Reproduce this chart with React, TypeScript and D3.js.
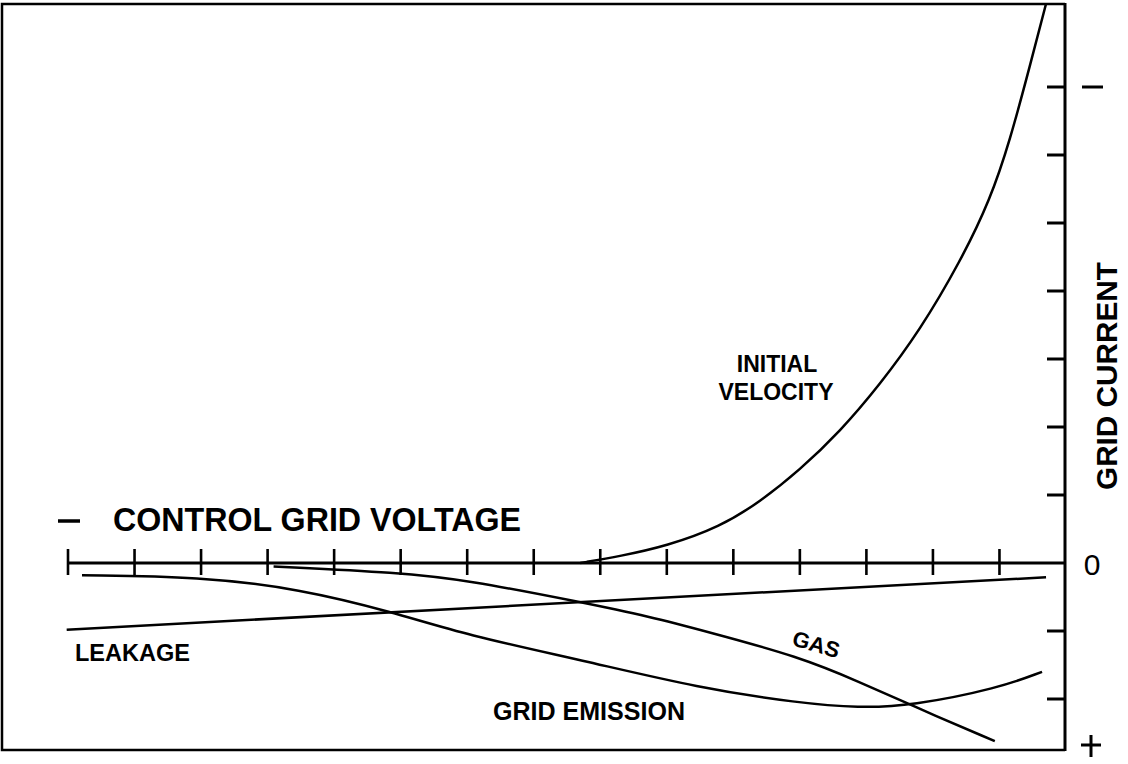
import React from "react";
import * as d3 from "d3";

// Grid voltage in tick units (0..15, 15 = right axis), grid current in tick units (0 = axis)
const voltageTicks = [0, 1, 2, 3, 4, 5, 6, 7, 8, 9, 10, 11, 12, 13, 14];
const currentTicks = [-2, -1, 1, 2, 3, 4, 5, 6, 7];

const velocityX = [7.7, 8.3, 9.0, 9.8, 10.4, 11.0, 11.6, 12.2, 12.81, 13.41, 13.86, 14.16, 14.46, 14.72];
const velocityY = [0, 0.1, 0.25, 0.53, 0.9, 1.37, 1.93, 2.62, 3.43, 4.43, 5.34, 6.22, 7.32, 8.3];

const leakageX = [-0.02, 14.7];
const leakageY = [-0.98, -0.21];

const emissionX = [0.21, 1.98, 3.48, 4.88, 5.99, 7.73, 9.49, 10.99, 11.89, 12.67, 13.99, 14.64];
const emissionY = [-0.18, -0.2, -0.38, -0.72, -1.06, -1.43, -1.84, -2.06, -2.13, -2.1, -1.84, -1.6];

const gasX = [3.09, 4.98, 5.99, 7.73, 8.75, 9.57, 11.0, 11.9, 12.69, 13.93];
const gasY = [-0.05, -0.14, -0.25, -0.58, -0.79, -1.0, -1.38, -1.75, -2.1, -2.62];

const W = 1128;
const H = 764;
const FONT = "'Liberation Sans', 'DejaVu Sans', sans-serif";

export default function App() {
  const x = d3.scaleLinear().domain([0, 15]).range([68, 1066]);
  const y = d3.scaleLinear().domain([0, 1]).range([563, 495]);

  const frameLeft = 2;
  const frameTop = 4;
  const frameBottom = 750;
  const axisX = x(15) - 1;

  const line = d3
    .line<[number, number]>()
    .x((d) => x(d[0]))
    .y((d) => y(d[1]))
    .curve(d3.curveBasis);

  const zip = (a: number[], b: number[]) => a.map((v, i) => [v, b[i]] as [number, number]);

  const clipId = "plotclip";

  return (
    <svg
      width={W}
      height={H}
      viewBox={`0 0 ${W} ${H}`}
      style={{ position: "absolute", left: 0, top: 0, background: "#fff" }}
    >
      <defs>
        <clipPath id={clipId}>
          <rect x={frameLeft} y={frameTop} width={axisX - frameLeft} height={frameBottom - frameTop} />
        </clipPath>
      </defs>
      <rect width={W} height={H} fill="#fff" />
      {/* frame */}
      <path
        d={`M${axisX},${frameTop} L${frameLeft},${frameTop} L${frameLeft},${frameBottom} L${axisX},${frameBottom}`}
        fill="none"
        stroke="#000"
        strokeWidth={2.5}
      />
      {/* right (current) axis */}
      <line x1={axisX} x2={axisX} y1={frameTop - 1} y2={frameBottom + 1} stroke="#000" strokeWidth={3} />
      {currentTicks.map((t) => (
        <line key={"ct" + t} x1={axisX - 18} x2={axisX} y1={y(t)} y2={y(t)} stroke="#000" strokeWidth={3} />
      ))}
      {/* x (voltage) axis */}
      <line x1={x(0)} x2={axisX} y1={y(0)} y2={y(0)} stroke="#000" strokeWidth={3} />
      {voltageTicks.map((t) => (
        <line key={"vt" + t} x1={x(t)} x2={x(t)} y1={y(0) - 14} y2={y(0) + 12} stroke="#000" strokeWidth={2.6} />
      ))}
      {/* curves */}
      <g clipPath={`url(#${clipId})`} fill="none" stroke="#000" strokeWidth={2.5}>
        <path d={line(zip(velocityX, velocityY)) || ""} />
        <path d={line(zip(leakageX, leakageY)) || ""} />
        <path d={line(zip(emissionX, emissionY)) || ""} />
        <path d={line(zip(gasX, gasY)) || ""} />
      </g>
      {/* labels */}
      <g fontFamily={FONT} fontWeight="bold" fill="#000">
        <line x1={58} x2={80} y1={521} y2={521} stroke="#000" strokeWidth={3.5} />
        <text x={113} y={531} fontSize={34} textLength={408} lengthAdjust="spacingAndGlyphs"
          style={{ fontWeight: 600 }}>
          CONTROL GRID VOLTAGE
        </text>
        <text x={75} y={661} fontSize={24} textLength={115} lengthAdjust="spacingAndGlyphs">
          LEAKAGE
        </text>
        <text x={493} y={720} fontSize={25} textLength={192} lengthAdjust="spacingAndGlyphs">
          GRID EMISSION
        </text>
        <text x={0} y={0} fontSize={22} textLength={48} lengthAdjust="spacingAndGlyphs"
          transform="translate(791,645) rotate(16)">
          GAS
        </text>
        <text x={777} y={372} fontSize={23} textAnchor="middle">
          INITIAL
        </text>
        <text x={776} y={400} fontSize={23} textAnchor="middle">
          VELOCITY
        </text>
        <line x1={1082} x2={1103} y1={y(7)} y2={y(7)} stroke="#000" strokeWidth={3} />
        <text x={1092} y={y(0) + 12} fontSize={30} fontWeight="normal" textAnchor="middle">
          0
        </text>
        <g stroke="#000" strokeWidth={3}>
          <line x1={1081} x2={1101} y1={745} y2={745} />
          <line x1={1091} x2={1091} y1={735} y2={757} />
        </g>
        <text
          transform={`translate(1117,376) rotate(-90)`}
          fontSize={30}
          textAnchor="middle"
          textLength={228}
          lengthAdjust="spacingAndGlyphs"
          style={{ fontWeight: 600 }}
        >
          GRID  CURRENT
        </text>
      </g>
    </svg>
  );
}
